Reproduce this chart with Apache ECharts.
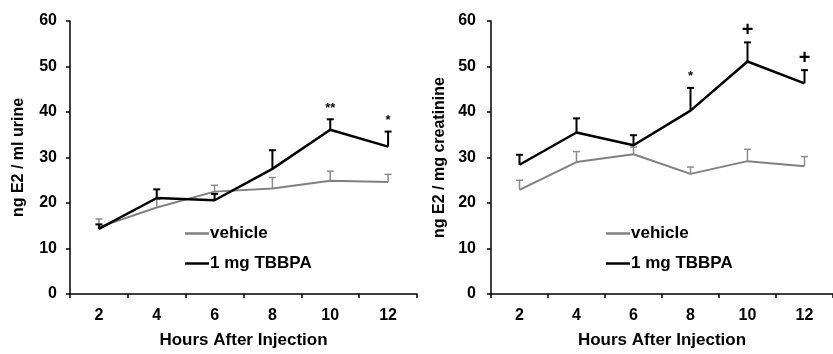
<!DOCTYPE html>
<html>
<head>
<meta charset="utf-8">
<script src="https://cdn.jsdelivr.net/npm/echarts@6/dist/echarts.min.js"></script>
<style>
html,body{margin:0;padding:0;background:#fff;}
#chart{width:833px;height:354px;}
</style>
</head>
<body>
<div id="chart"></div>
<script>
// ---- data ----
const hours = ['2', '4', '6', '8', '10', '12'];
const yTicks = [0, 10, 20, 30, 40, 50, 60];

// Left panel: ng E2 / ml urine
const urineVehicle = [14.7, 19.0, 22.5, 23.2, 24.9, 24.6];
const urineVehicleSem = [1.8, 1.8, 1.4, 2.4, 2.1, 1.7];
const urineTBBPA = [14.3, 21.1, 20.6, 27.5, 36.1, 32.4];
const urineTBBPASem = [1.0, 1.9, 1.4, 4.1, 2.3, 3.3];
const urineMarks = ['', '', '', '', '**', '*'];

// Right panel: ng E2 / mg creatinine
const creatVehicle = [22.9, 29.0, 30.7, 26.4, 29.2, 28.1];
const creatVehicleSem = [2.1, 2.3, 1.6, 1.5, 2.6, 2.1];
const creatTBBPA = [28.4, 35.5, 32.7, 40.3, 51.1, 46.3];
const creatTBBPASem = [2.2, 3.1, 2.2, 5.0, 4.2, 2.9];
const creatMarks = ['', '', '', '*', '+', '+'];

// ---- styles ----
const FONT = 'Liberation Sans, Arial, sans-serif';
const GRAY = '#808080';
const BLACK = '#000000';

function errData(mean, sem) { return hours.map((h, i) => [i, mean[i], sem[i]]); }

function errSeries(idx, mean, sem, color, lw) {
  return {
    type: 'custom', xAxisIndex: idx, yAxisIndex: idx, z: 3, silent: true,
    data: errData(mean, sem),
    renderItem: function (params, api) {
      const x = api.value(0), y = api.value(1), e = api.value(2);
      const p0 = api.coord([x, y]);
      const p1 = api.coord([x, y + e]);
      return {
        type: 'group',
        children: [
          { type: 'line', shape: { x1: p0[0], y1: p0[1], x2: p1[0], y2: p1[1] }, style: { stroke: color, lineWidth: lw } },
          { type: 'line', shape: { x1: p1[0] - 3.5, y1: p1[1], x2: p1[0] + 3.5, y2: p1[1] }, style: { stroke: color, lineWidth: lw } }
        ]
      };
    }
  };
}

function markSeries(idx, mean, sem, marks) {
  return {
    type: 'custom', xAxisIndex: idx, yAxisIndex: idx, z: 5, silent: true,
    data: errData(mean, sem),
    renderItem: function (params, api) {
      const t = marks[params.dataIndex];
      if (!t) return null;
      const p = api.coord([api.value(0), api.value(1) + api.value(2)]);
      const big = t === '+';
      return {
        type: 'text',
        x: p[0], y: p[1] - (big ? 12 : 11),
        style: {
          text: t, fill: BLACK, align: 'center', verticalAlign: 'middle',
          font: 'bold ' + (big ? 20 : 13) + 'px ' + FONT
        }
      };
    }
  };
}

function lineSeries(name, idx, data, color, w, z) {
  return {
    name: name, type: 'line', xAxisIndex: idx, yAxisIndex: idx, data: data,
    symbol: 'none', z: z, silent: true,
    lineStyle: { color: color, width: w }, itemStyle: { color: color }
  };
}

function xAxis(gridIndex) {
  return {
    type: 'category', gridIndex: gridIndex, data: hours, boundaryGap: true,
    name: 'Hours After Injection', nameLocation: 'middle', nameGap: 38,
    nameTextStyle: { fontFamily: FONT, fontWeight: 'bold', fontSize: 17, color: BLACK },
    axisLine: { lineStyle: { color: BLACK, width: 1.5 } },
    axisTick: { show: true, alignWithLabel: false, length: 4, lineStyle: { color: BLACK, width: 1.5 } },
    axisLabel: { fontFamily: FONT, fontWeight: 'bold', fontSize: 16, color: BLACK, margin: 14 },
    splitLine: { show: false }
  };
}

function yAxis(gridIndex, name, margin) {
  return {
    type: 'value', gridIndex: gridIndex, min: yTicks[0], max: yTicks[yTicks.length - 1], interval: 10,
    name: name, nameLocation: 'middle', nameGap: 43,
    nameTextStyle: { fontFamily: FONT, fontWeight: 'bold', fontSize: 16, color: BLACK },
    axisLine: { show: true, lineStyle: { color: BLACK, width: 1.5 } },
    axisTick: { show: true, length: 4, lineStyle: { color: BLACK, width: 1.5 } },
    axisLabel: { fontFamily: FONT, fontWeight: 'bold', fontSize: 16, color: BLACK, margin: margin },
    splitLine: { show: false }
  };
}

function legend(left) {
  return {
    data: [
      { name: 'vehicle', icon: 'rect' },
      { name: '1 mg TBBPA', icon: 'rect' }
    ],
    orient: 'vertical', left: left, top: 225, padding: 0,
    itemWidth: 24, itemHeight: 2.5, itemGap: 13, selectedMode: false,
    textStyle: { fontFamily: FONT, fontWeight: 'bold', fontSize: 17, color: BLACK, padding: [0, 0, 0, -4] }
  };
}

const chart = echarts.init(document.getElementById('chart'), null, { renderer: 'canvas' });
chart.setOption({
  animation: false,
  backgroundColor: '#ffffff',
  grid: [
    { left: 70, top: 21, width: 347, height: 279 },
    { left: 491, top: 21, width: 347, height: 279 }
  ],
  xAxis: [xAxis(0), xAxis(1)],
  yAxis: [yAxis(0, 'ng E2 / ml urine', 13), yAxis(1, 'ng E2 / mg creatinine', 15)],
  legend: [legend(185), legend(606)],
  series: [
    errSeries(0, urineVehicle, urineVehicleSem, '#8c8c8c', 1.5),
    lineSeries('vehicle', 0, urineVehicle, GRAY, 2, 2),
    errSeries(0, urineTBBPA, urineTBBPASem, BLACK, 2),
    lineSeries('1 mg TBBPA', 0, urineTBBPA, BLACK, 2.5, 4),
    markSeries(0, urineTBBPA, urineTBBPASem, urineMarks),

    errSeries(1, creatVehicle, creatVehicleSem, '#8c8c8c', 1.5),
    lineSeries('vehicle', 1, creatVehicle, GRAY, 2, 2),
    errSeries(1, creatTBBPA, creatTBBPASem, BLACK, 2),
    lineSeries('1 mg TBBPA', 1, creatTBBPA, BLACK, 2.5, 4),
    markSeries(1, creatTBBPA, creatTBBPASem, creatMarks)
  ]
});
</script>
</body>
</html>
